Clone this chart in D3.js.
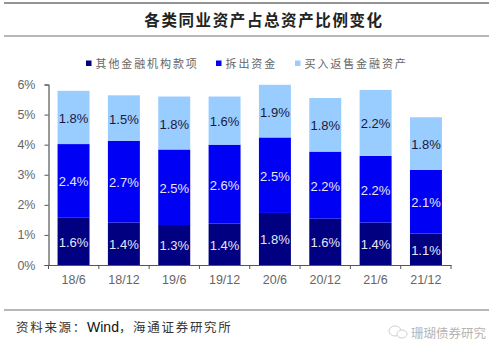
<!DOCTYPE html>
<html>
<head>
<meta charset="utf-8">
<script src="https://cdn.jsdelivr.net/npm/d3@7"></script>
<style>
  html, body { margin: 0; padding: 0; background: #fff; }
  svg { display: block; }
  text { font-family: "Liberation Sans", Arial, sans-serif; }
  .cjk { font-family: "Noto Sans CJK SC", sans-serif; }
</style>
</head>
<body>
<svg width="500" height="354"></svg>
<script>
const categories = ["18/6", "18/12", "19/6", "19/12", "20/6", "20/12", "21/6", "21/12"];
const seriesNames = ["其他金融机构款项", "拆出资金", "买入返售金融资产"];
const otherValues = [1.57, 1.41, 1.33, 1.38, 1.73, 1.54, 1.41, 1.05];
const lendingValues = [2.45, 2.72, 2.51, 2.62, 2.51, 2.23, 2.22, 2.11];
const resaleValues = [1.77, 1.51, 1.76, 1.60, 1.75, 1.78, 2.19, 1.75];
const otherLabels = ["1.6%", "1.4%", "1.3%", "1.4%", "1.8%", "1.6%", "1.4%", "1.1%"];
const lendingLabels = ["2.4%", "2.7%", "2.5%", "2.6%", "2.5%", "2.2%", "2.2%", "2.1%"];
const resaleLabels = ["1.8%", "1.5%", "1.8%", "1.6%", "1.9%", "1.8%", "2.2%", "1.8%"];
const yTicks = [0, 1, 2, 3, 4, 5, 6];
const colors = ["#000080", "#0000f5", "#99ccff"];
const labelColors = ["#e6e6f5", "#e6e6f5", "#1a1a40"];

const svg = d3.select("svg");
const margin = { left: 48.5, right: 49, top: 84.5, bottom: 89 };
const width = +svg.attr("width");
const height = +svg.attr("height");

const xScale = d3.scaleBand().domain(categories)
  .range([margin.left, width - margin.right])
  .paddingInner(0.365).paddingOuter(0.18);
const xAxisScale = d3.scaleBand().domain(categories)
  .range([margin.left, width - margin.right]);
const yScale = d3.scaleLinear().domain([0, 6]).range([height - margin.bottom, margin.top]);

// header and footer rules
[3, 36, 310].forEach((y) => {
  svg.append("line")
    .attr("x1", 4).attr("x2", 489)
    .attr("y1", y).attr("y2", y)
    .attr("stroke", "#707070")
    .attr("stroke-width", y === 3 ? 1.5 : 1.2);
});

svg.append("text").attr("class", "cjk")
  .attr("x", 264).attr("y", 26)
  .attr("text-anchor", "middle")
  .attr("font-size", 15.5).attr("font-weight", 700)
  .attr("letter-spacing", 1.6)
  .attr("fill", "#222")
  .text("各类同业资产占总资产比例变化");

// stacks
const rows = categories.map((c, i) => ({
  cat: c,
  other: otherValues[i],
  lending: lendingValues[i],
  resale: resaleValues[i],
  labels: [otherLabels[i], lendingLabels[i], resaleLabels[i]],
}));
const stacked = d3.stack().keys(["other", "lending", "resale"])(rows);

const layer = svg.selectAll("g.layer").data(stacked).enter().append("g")
  .attr("class", "layer")
  .attr("fill", (d, i) => colors[i]);

layer.selectAll("rect").data((d) => d).enter().append("rect")
  .attr("x", (d) => xScale(d.data.cat))
  .attr("width", xScale.bandwidth())
  .attr("y", (d) => yScale(d[1]))
  .attr("height", (d) => yScale(d[0]) - yScale(d[1]));

layer.each(function (s, si) {
  d3.select(this).selectAll("text").data(s).enter().append("text")
    .attr("x", (d) => xScale(d.data.cat) + xScale.bandwidth() / 2)
    .attr("y", (d) => yScale((d[0] + d[1]) / 2) + 5.5)
    .attr("text-anchor", "middle")
    .attr("font-size", 13)
    .attr("fill", labelColors[si])
    .text((d) => d.data.labels[si]);
});

// axes
const yAxis = d3.axisLeft(yScale).tickValues(yTicks).tickFormat((d) => d + "%").tickSize(4).tickPadding(9);
const yG = svg.append("g").attr("transform", `translate(${margin.left},0)`).call(yAxis);
const xAxis = d3.axisBottom(xAxisScale).tickSize(0).tickPadding(10);
const xG = svg.append("g").attr("transform", `translate(0,${height - margin.bottom})`).call(xAxis);

// x ticks sit between the categories
xG.selectAll(".boundary").data(d3.range(categories.length + 1)).enter().append("line")
  .attr("class", "boundary")
  .attr("x1", (i) => margin.left + i * xAxisScale.step())
  .attr("x2", (i) => margin.left + i * xAxisScale.step())
  .attr("y1", 0).attr("y2", 4)
  .attr("stroke", "#555");

[yG, xG].forEach((g) => {
  g.selectAll("path.domain").attr("stroke", "#555").attr("stroke-width", 1.2);
  g.selectAll(".tick line").attr("stroke", "#555");
  g.selectAll("text").attr("font-size", 12.5).attr("fill", "#666")
    .attr("font-family", '"Liberation Sans", Arial, sans-serif');
});

// legend
const legendX = [86, 216, 295];
seriesNames.forEach((name, i) => {
  svg.append("rect")
    .attr("x", legendX[i]).attr("y", 60.5).attr("width", 5.5).attr("height", 5.5)
    .attr("fill", colors[i]);
  svg.append("text").attr("class", "cjk")
    .attr("x", legendX[i] + 9.5).attr("y", 67.5)
    .attr("font-size", 11).attr("letter-spacing", 1.9)
    .attr("fill", "#666")
    .text(name);
});

// source
const source = svg.append("text").attr("class", "cjk")
  .attr("x", 16).attr("y", 332)
  .attr("font-size", 12.5).attr("letter-spacing", 1.7)
  .attr("fill", "#333");
source.append("tspan").text("资料来源：");
source.append("tspan")
  .attr("font-family", '"Liberation Sans", Arial, sans-serif')
  .attr("font-size", 14).attr("letter-spacing", 0)
  .attr("fill", "#111")
  .text("Wind");
source.append("tspan").text("，海通证券研究所");

// watermark
const mark = svg.append("g").attr("fill", "#fff").attr("stroke", "#cfcfcf").attr("stroke-width", 1);
mark.append("ellipse").attr("cx", 395).attr("cy", 331).attr("rx", 6).attr("ry", 5);
mark.append("ellipse").attr("cx", 402).attr("cy", 334).attr("rx", 5).attr("ry", 4);
svg.append("text").attr("class", "cjk")
  .attr("x", 411).attr("y", 338)
  .attr("font-size", 12.5)
  .attr("fill", "#b4b4b4")
  .text("珊瑚债券研究");
</script>
</body>
</html>
